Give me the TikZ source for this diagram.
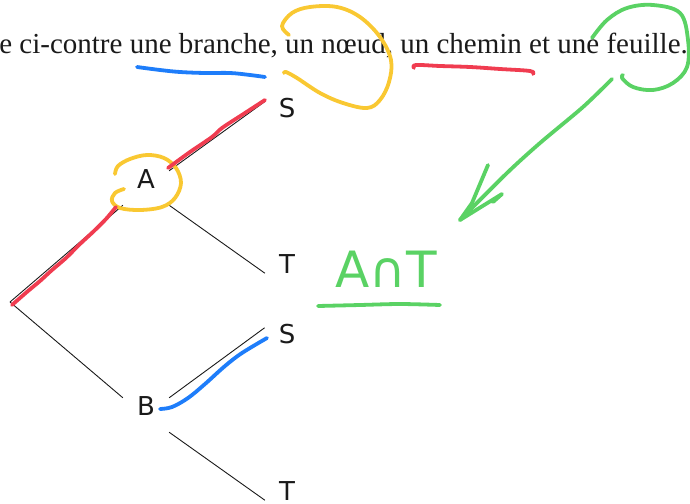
\documentclass[tikz,border=0pt]{standalone}
\usepackage{fontspec}
\setmainfont{Liberation Serif}
\newfontfamily\treefont{DejaVu Sans}
\usetikzlibrary{arrows.meta, positioning}
\usepackage{xcolor}
\definecolor{ink}    {HTML}{1A1A1A}
\definecolor{hlyellow}{HTML}{F9C832}
\definecolor{hlblue} {HTML}{1E7DFA}
\definecolor{hlred}  {HTML}{F03C50}
\definecolor{hlgreen}{HTML}{5AD264}
\tikzset{
  header/.style = {font=\fontsize{29}{34}\selectfont, text=ink, inner sep=0pt},
  inode/.style  = {font=\treefont\fontsize{26}{30}\selectfont, text=ink,
                   inner xsep=14pt, inner ysep=0pt,
                   text height=17pt, text depth=17pt},
  leaf/.style   = {font=\treefont\fontsize{26}{30}\selectfont, text=ink,
                   inner xsep=14pt, inner ysep=0pt,
                   text height=15pt, text depth=0pt},
  twig/.style   = {draw=ink, line width=0.9pt},
  pen/.style    = {line width=3.8pt, line cap=round, line join=round},
  hand/.style   = {font=\treefont\fontsize{50}{56}\selectfont, text=hlgreen, inner sep=0pt},
}

\begin{document}
\begin{tikzpicture}[x=1pt, y=-1pt]
  \useasboundingbox (0,0) rectangle (690,503);

  \node[header, anchor=base east] (consigne) at (688,53)
    {e ci-contre une branche, un nœud, un chemin et une feuille.};

  % the tree
  \coordinate (racine) at (10,302);
  \node[inode, anchor=base] (A)  at (146,188) {A};
  \node[inode, anchor=base] (B)  at (146,415) {B};
  \node[leaf,  anchor=base] (AS) at (287,117) {S};
  \node[leaf,  anchor=base] (AT) at (287,273) {T};
  \node[leaf,  anchor=base] (BS) at (287,343) {S};
  \node[leaf,  anchor=base] (BT) at (287,500) {T};

  \draw[twig] (racine) -- (A.south west);
  \draw[twig] (racine) -- (B.north west);
  \foreach \p/\q in {A/AS, B/BS}
    \draw[twig] (\p.north east) -- (\q.north west);
  \foreach \p/\q in {A/AT, B/BT}
    \draw[twig] (\p.south east) -- (\q.south west);

  % handwritten answer
  \node[hand, anchor=base] (ant) at (386,287) {A∩T};

  % pen strokes
  \draw[pen, hlblue] plot[smooth, tension=0.6] coordinates
    {(137,67) (160,70) (180,72) (205,73) (230,73) (250,75) (265,77)};
  \draw[pen, hlred] plot[smooth, tension=0.6] coordinates
    {(414,68) (416,65) (440,66) (470,67) (500,69) (530,71) (533,74)};
  \draw[pen, hlyellow] plot[smooth, tension=0.6] coordinates
    {(289,35) (282,26) (292,13) (310,7) (337,7) (360,17) (380,37) (391,60)
     (389,82) (380,100) (367,108) (343,103) (320,93) (297,78) (286,72) (284,73)};
  \draw[pen, hlyellow] plot[smooth, tension=0.6] coordinates
    {(115,174) (118,166) (130,159) (147,155) (164,158) (176,168) (181,183)
     (175,198) (162,207) (140,210) (120,208) (112,201) (115,193) (124,189)};
  \draw[pen, hlred] plot[smooth, tension=0.5] coordinates
    {(12,305) (28,291) (40,281) (52,270) (66,258) (80,244) (94,231) (106,219) (116,207)};
  \draw[pen, hlred] plot[smooth, tension=0.5] coordinates
    {(168,168) (190,152) (212,137) (222,128) (245,113) (265,100)};
  \draw[pen, hlblue] plot[smooth, tension=0.6] coordinates
    {(160,409) (172,407) (188,398) (205,384) (225,366) (242,353) (267,338)};

  % green loop and arrow
  \draw[pen, hlgreen] plot[smooth, tension=0.6] coordinates
    {(592,38) (607,20) (627,8) (653,5) (680,13) (688,40) (687,67) (673,83)
     (653,90) (633,87) (622,78) (623,75)};
  \draw[pen, hlgreen] plot[smooth, tension=0.5] coordinates
    {(612,79) (583,107) (540,143) (507,173) (460,220)};
  \draw[pen, hlgreen] (488,165) -- (472,203) -- (460,220)
    -- (502,194) -- (493,202);
  \draw[pen, hlgreen] plot[smooth, tension=0.5] coordinates
    {(318,306) (360,305) (400,304) (440,305)};
\end{tikzpicture}
\end{document}
